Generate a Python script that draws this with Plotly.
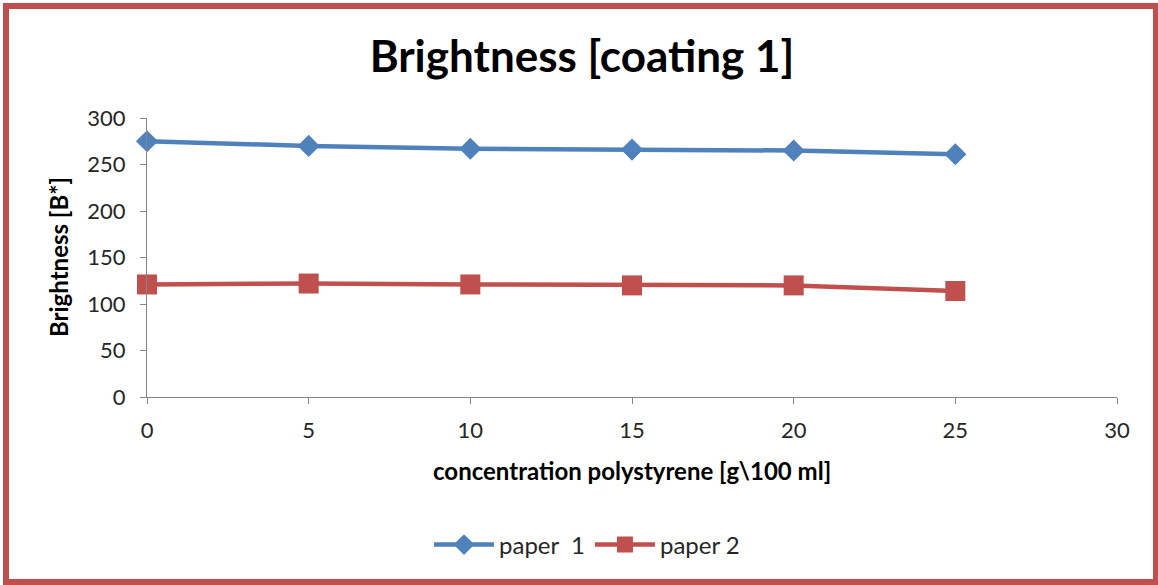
import plotly.graph_objects as go

concentration = [0, 5, 10, 15, 20, 25]
paper1 = [275, 270, 267, 266, 265, 261]
paper2 = [121, 122, 121, 120, 120, 114]
series_names = ["paper  1", "paper 2"]
title_text = "Brightness [coating 1]"
x_title = "concentration polystyrene [g\\100 ml]"
y_title = "Brightness [B*]"

BLUE = "#4F81BD"
RED = "#C0504D"
FONT = "Lato"

W, H = 1158, 585
L, R, T, B = 147, 41, 118, 188
PW, PH = W - L - R, H - T - B

def px_x(px):
    return (px - L) / PW

def px_y(py):
    return (H - B - py) / PH

fig = go.Figure()
fig.add_trace(go.Scatter(
    x=concentration, y=paper1, name=series_names[0], mode="lines+markers",
    line=dict(color=BLUE, width=4.5), cliponaxis=False,
    marker=dict(symbol="diamond", size=17, color=BLUE),
))
fig.add_trace(go.Scatter(
    x=concentration, y=paper2, name=series_names[1], mode="lines+markers",
    line=dict(color=RED, width=4.5), cliponaxis=False,
    marker=dict(symbol="square", size=20, color=RED),
))

axis_common = dict(
    showgrid=False, zeroline=False, showline=True, linecolor="#868686", linewidth=1,
    ticks="outside", ticklen=6, tickcolor="#868686",
    tickfont=dict(family=FONT, size=22, color="#262626"),
)

fig.update_layout(
    width=W, height=H,
    margin=dict(l=L, r=R, t=T, b=B),
    paper_bgcolor="white", plot_bgcolor="white",
    font=dict(family=FONT),
    title=dict(text=title_text, x=582 / W, xanchor="center", xref="container",
               y=1 - 57 / H, yanchor="middle", yref="container",
               font=dict(family=FONT, size=44, color="black", weight="bold")),
    xaxis=dict(range=[0, 30], dtick=5, tick0=0, ticklabelstandoff=8, **axis_common),
    yaxis=dict(range=[0, 300], dtick=50, tick0=0, ticklabelstandoff=10, **axis_common),
    showlegend=True,
    legend=dict(orientation="h", x=px_x(587), xanchor="center", y=px_y(545), yanchor="middle",
                font=dict(family=FONT, size=24, color="#262626"), itemwidth=60,
                bgcolor="rgba(0,0,0,0)"),
)

fig.add_annotation(text=x_title, xref="paper", yref="paper", x=px_x(632), y=px_y(470),
                   showarrow=False, xanchor="center", yanchor="middle",
                   font=dict(family=FONT, size=24, color="black", weight="bold"))
fig.add_annotation(text=y_title, xref="paper", yref="paper", x=px_x(58), y=px_y(257),
                   showarrow=False, xanchor="center", yanchor="middle", textangle=-90,
                   font=dict(family=FONT, size=24, color="black", weight="bold"))

# outer frame
fig.add_shape(type="rect", xref="paper", yref="paper",
              x0=px_x(6), x1=px_x(1156), y0=px_y(582), y1=px_y(6),
              line=dict(color=RED, width=6), fillcolor="rgba(0,0,0,0)", layer="above")

fig.write_html("out.html")
